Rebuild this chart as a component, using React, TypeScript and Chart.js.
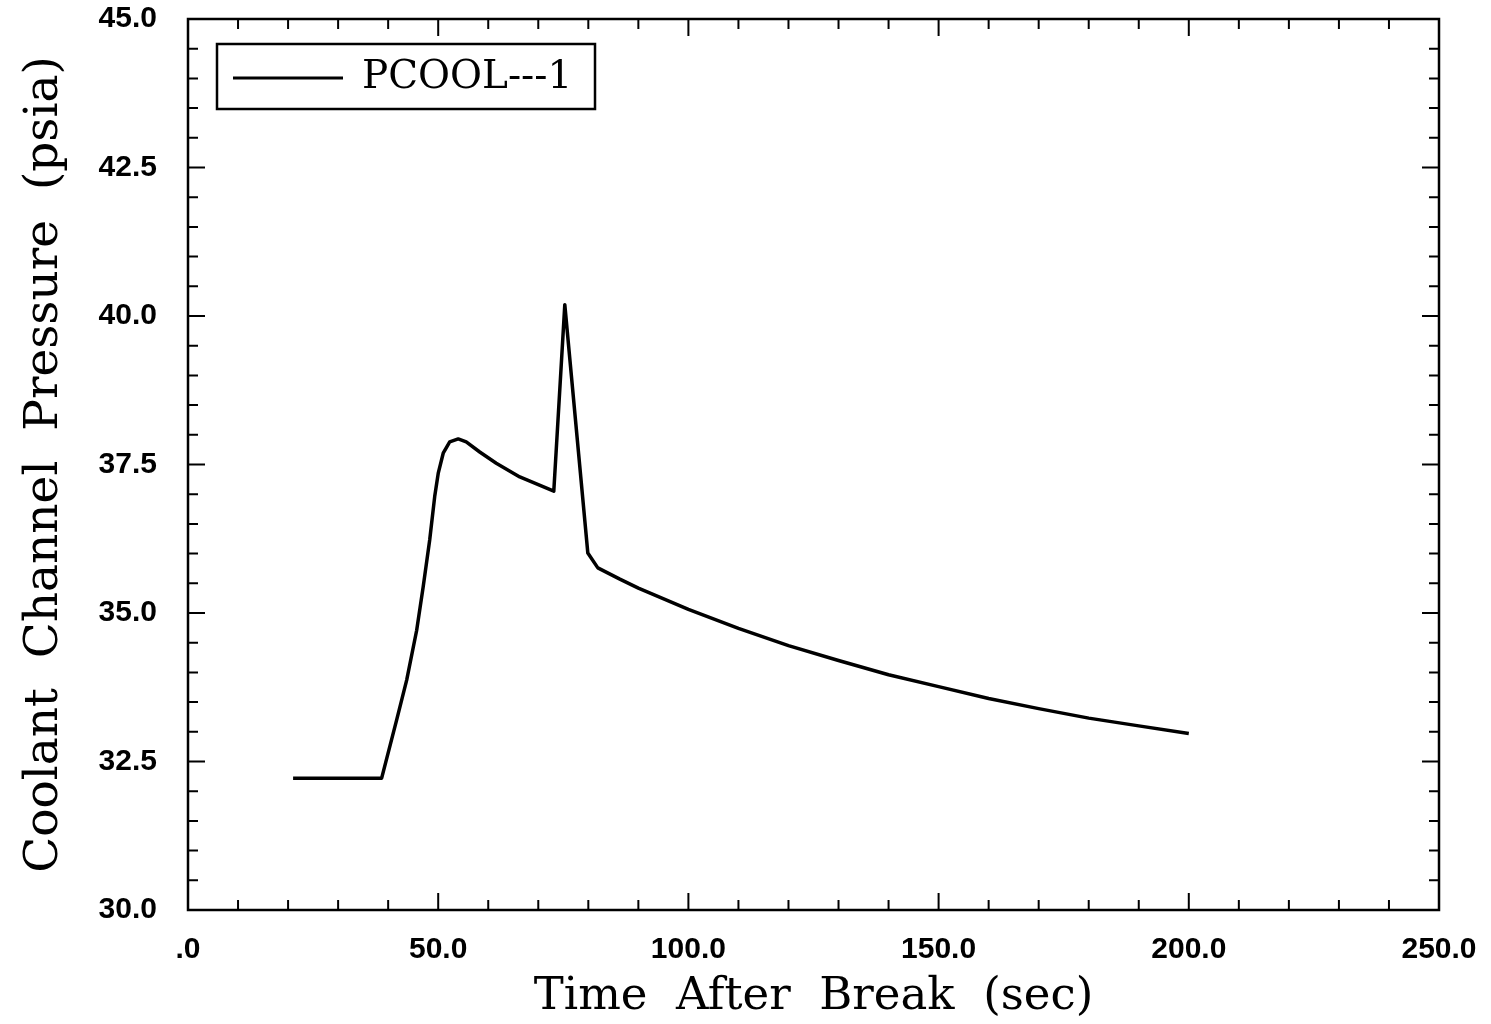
import React, { useEffect, useRef } from "react";
import { Chart, registerables } from "chart.js";

Chart.register(...registerables);

const timeSec = [21, 38.7, 41.7, 43.7, 45.7, 47.0, 48.3, 49.3, 50.0, 51.0, 52.3, 54.0, 55.6, 58.3, 61.6, 66.3, 73.1, 75.3, 79.9, 81.9, 86.3, 90, 100, 110, 120, 130, 140, 150, 160, 170, 180, 190, 200];
const pcoolPsia = [32.22, 32.22, 33.2, 33.87, 34.71, 35.44, 36.23, 36.96, 37.35, 37.69, 37.88, 37.93, 37.88, 37.71, 37.52, 37.29, 37.05, 40.19, 36.01, 35.76, 35.57, 35.42, 35.06, 34.74, 34.45, 34.2, 33.96, 33.76, 33.56, 33.39, 33.23, 33.1, 32.97];

const seriesName = "PCOOL---1";
const xTitle = "Time  After  Break  (sec)";
const yTitle = "Coolant  Channel  Pressure  (psia)";
const xMin = 0, xMax = 250, xMajor = 50, xMinor = 10;
const yMin = 30, yMax = 45, yMajor = 2.5, yMinor = 0.5;

const framePlugin = {
  id: "framePlugin",
  afterDraw(chart: any) {
    const { ctx, chartArea: a, scales } = chart;
    const xs = scales.x, ys = scales.y;
    ctx.save();
    ctx.strokeStyle = "#000";
    ctx.lineWidth = 2.5;
    ctx.strokeRect(a.left, a.top, a.right - a.left, a.bottom - a.top);
    ctx.lineWidth = 2;
    const majL = 17, minL = 10;
    ctx.beginPath();
    for (let v = xMin; v <= xMax + 1e-9; v += xMinor) {
      const px = xs.getPixelForValue(v);
      const isMaj = Math.abs(v / xMajor - Math.round(v / xMajor)) < 1e-6;
      const l = isMaj ? majL : minL;
      if (v === xMin || v === xMax) continue;
      ctx.moveTo(px, a.bottom); ctx.lineTo(px, a.bottom - l);
      ctx.moveTo(px, a.top); ctx.lineTo(px, a.top + l);
    }
    for (let v = yMin; v <= yMax + 1e-9; v += yMinor) {
      const py = ys.getPixelForValue(v);
      const isMaj = Math.abs(v / yMajor - Math.round(v / yMajor)) < 1e-6;
      const l = isMaj ? majL : minL;
      if (Math.abs(v - yMin) < 1e-9 || Math.abs(v - yMax) < 1e-9) continue;
      ctx.moveTo(a.left, py); ctx.lineTo(a.left + l, py);
      ctx.moveTo(a.right, py); ctx.lineTo(a.right - l, py);
    }
    ctx.stroke();
    // legend
    const lx = 217, ly = 44, lw = 378, lh = 65;
    ctx.lineWidth = 2.5;
    ctx.strokeRect(lx, ly, lw, lh);
    ctx.lineWidth = 3;
    ctx.beginPath();
    ctx.moveTo(233, 78); ctx.lineTo(343, 78);
    ctx.stroke();
    ctx.fillStyle = "#000";
    ctx.font = "39px 'DejaVu Serif'";
    ctx.textBaseline = "middle";
    ctx.textAlign = "left";
    ctx.fillText(seriesName, 362, 78);
    ctx.restore();
  },
};

export default function App() {
  const ref = useRef<HTMLCanvasElement | null>(null);
  useEffect(() => {
    if (!ref.current) return;
    const chart = new Chart(ref.current, {
      type: "line",
      data: {
        datasets: [
          {
            label: seriesName,
            data: timeSec.map((t, i) => ({ x: t, y: pcoolPsia[i] })),
            borderColor: "#000",
            borderWidth: 3.5,
            borderJoinStyle: "round",
            pointRadius: 0,
            tension: 0,
            fill: false,
          },
        ],
      },
      options: {
        animation: false,
        responsive: false,
        events: [],
        layout: { padding: { top: 19, right: 52, left: 0, bottom: 0 } },
        plugins: { legend: { display: false }, tooltip: { enabled: false } },
        scales: {
          x: {
            type: "linear",
            min: xMin,
            max: xMax,
            afterFit: (s: any) => { s.height = 114; s.paddingLeft = 0; s.paddingRight = 0; },
            grid: { display: false, drawTicks: false },
            border: { display: false },
            ticks: {
              stepSize: xMajor,
              padding: 22,
              color: "#000",
              font: { family: "'Liberation Sans'", weight: "bold", size: 30 },
              maxRotation: 0,
              callback: (v: any) => (Number(v) === 0 ? ".0" : Number(v).toFixed(1)),
            },
            title: {
              display: true,
              text: xTitle,
              color: "#000",
              font: { family: "'DejaVu Serif'", size: 45 },
              padding: { top: 0, bottom: 0 },
            },
          },
          y: {
            type: "linear",
            min: yMin,
            max: yMax,
            afterFit: (s: any) => { s.width = 188; s.paddingTop = 0; s.paddingBottom = 0; },
            grid: { display: false, drawTicks: false },
            border: { display: false },
            ticks: {
              stepSize: yMajor,
              padding: 31,
              color: "#000",
              font: { family: "'Liberation Sans'", weight: "bold", size: 30 },
              callback: (v: any) => Number(v).toFixed(1),
            },
            title: {
              display: true,
              text: yTitle,
              color: "#000",
              font: { family: "'DejaVu Serif'", size: 47 },
              padding: { top: 17, bottom: 0 },
            },
          },
        },
      },
      plugins: [framePlugin],
    });
    return () => chart.destroy();
  }, []);
  return (
    <div style={{ position: "fixed", left: 0, top: 0, width: 1491, height: 1024, background: "#fff" }}>
      <canvas ref={ref} width={1491} height={1024} style={{ width: 1491, height: 1024, display: "block" }} />
    </div>
  );
}
